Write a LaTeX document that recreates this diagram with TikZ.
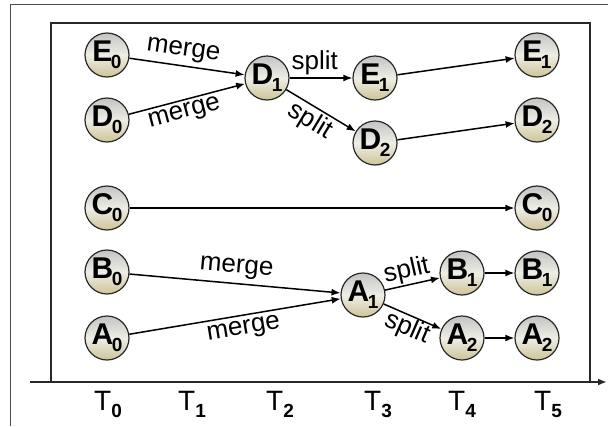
\documentclass[tikz,border=0pt]{standalone}
\usepackage{fontspec}
\setmainfont{Liberation Sans}
\usetikzlibrary{arrows.meta}
\definecolor{ballbot}{RGB}{205,196,150}
\definecolor{balltop}{RGB}{195,195,195}
\definecolor{ballmid}{RGB}{238,238,230}
\definecolor{frame}{RGB}{40,40,40}
% state label: bold letter with a bold index
\newcommand{\nlab}[2]{\fontsize{30}{30}\selectfont\bfseries #1\kern-1.5pt\raisebox{-7pt}{\fontsize{19}{19}\selectfont #2}}
% time label: regular T with a bold index
\newcommand{\tlab}[2]{\fontsize{28}{28}\selectfont #1\raisebox{-7pt}{\fontsize{19}{19}\selectfont\bfseries #2}}
\begin{document}
\begin{tikzpicture}[x=1pt,y=-1pt,
  ball/.style={circle, minimum size=44pt, inner sep=0pt, draw=frame, line width=1.2pt,
    top color=balltop, bottom color=ballbot, middle color=ballmid},
  flow/.style={-{Latex[length=9pt,width=7pt]}, line width=1.5pt, black},
  lbl/.style={font=\fontsize{26}{26}\selectfont, inner sep=2pt},
  tick/.style={inner sep=0pt}]
\useasboundingbox (0,0) rectangle (608,426);

% outer frame and plot box
\draw[line width=1pt, gray!60!black] (10,426) -- (10,4.5) -- (608,4.5);
\draw[line width=2pt, frame] (51,382) -- (51,23) -- (590,23) -- (590,382);
\coordinate (ax0) at (30,382);
\coordinate (ax1) at (607,382);
\draw[line width=2pt, frame, -{Latex[length=9pt,width=7pt]}] (ax0) -- (ax1);

% time labels
\node[tick] (t0) at (108,404) {\tlab{T}{0}};
\node[tick] (t1) at (192,404) {\tlab{T}{1}};
\node[tick] (t2) at (280,404) {\tlab{T}{2}};
\node[tick] (t3) at (378,404) {\tlab{T}{3}};
\node[tick] (t4) at (462,404) {\tlab{T}{4}};
\node[tick] (t5) at (548,404) {\tlab{T}{5}};

% states
\node[ball] (E0) at (107,55)  {\nlab{E}{0}};
\node[ball] (D0) at (107,120) {\nlab{D}{0}};
\node[ball] (C0) at (107,208) {\nlab{C}{0}};
\node[ball] (B0) at (107,272) {\nlab{B}{0}};
\node[ball] (A0) at (107,338) {\nlab{A}{0}};
\node[ball] (D1) at (267,78)  {\nlab{D}{1}};
\node[ball] (E1) at (375,78)  {\nlab{E}{1}};
\node[ball] (D2) at (375,143) {\nlab{D}{2}};
\node[ball] (A1) at (363,295) {\nlab{A}{1}};
\node[ball] (B1) at (462,273) {\nlab{B}{1}};
\node[ball] (A2) at (462,338) {\nlab{A}{2}};
\node[ball] (E1f) at (537,55)  {\nlab{E}{1}};
\node[ball] (D2f) at (537,120) {\nlab{D}{2}};
\node[ball] (C0f) at (537,208) {\nlab{C}{0}};
\node[ball] (B1f) at (537,273) {\nlab{B}{1}};
\node[ball] (A2f) at (537,338) {\nlab{A}{2}};

% transitions
\draw[flow] (E0) -- node[lbl, sloped, above, pos=0.45, inner sep=4pt] {merge} (D1);
\draw[flow] (D0) -- node[lbl, sloped, below, pos=0.45, inner sep=3pt] {merge} (D1);
\draw[flow] (D1) -- node[lbl, above, pos=0.4] {split} (E1);
\draw[flow] (D1) -- node[lbl, sloped, below, pos=0.45] {split} (D2);
\draw[flow] (E1) -- (E1f);
\draw[flow] (D2) -- (D2f);
\draw[flow] (C0) -- (C0f);
\draw[flow] (B0) -- node[lbl, sloped, above, pos=0.5, inner sep=5pt] {merge} (A1);
\draw[flow] (A0) -- node[lbl, sloped, below, pos=0.53, inner sep=4pt] {merge} (A1);
\draw[flow] (A1) -- node[lbl, sloped, above, pos=0.45, inner sep=1pt] {split} (B1);
\draw[flow] (A1) -- node[lbl, sloped, below, pos=0.5, inner sep=0pt] {split} (A2);
\draw[flow] (B1) -- (B1f);
\draw[flow] (A2) -- (A2f);
\end{tikzpicture}
\end{document}
